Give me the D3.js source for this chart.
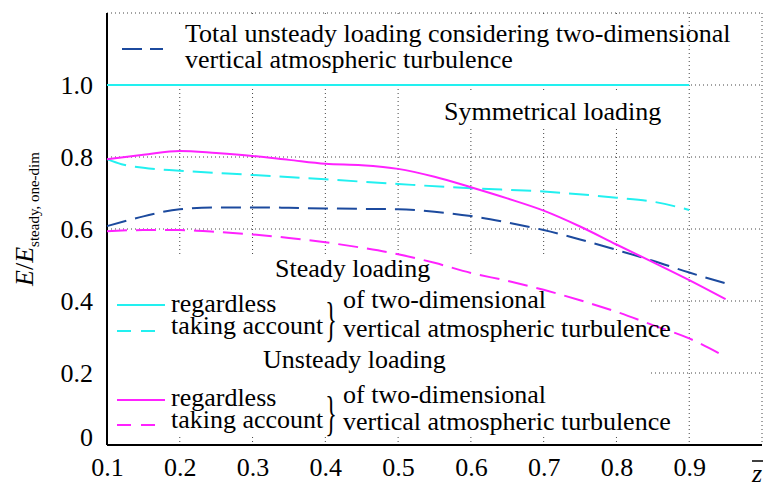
<!DOCTYPE html>
<html>
<head>
<meta charset="utf-8">
<script src="https://cdn.jsdelivr.net/npm/d3@7"></script>
<style>
  body { margin: 0; background: #fff; }
  svg, svg text { font-family: "Liberation Serif", "Times New Roman", Tinos, "DejaVu Serif", serif; }
</style>
</head>
<body>
<div id="chart"></div>
<script>
const width = 763
const height = 488
const plotLeft = 107, plotRight = 762, plotTop = 13, plotBottom = 445
const serif = '"Liberation Serif", "Times New Roman", Tinos, "DejaVu Serif", serif'

// Data
const zTicks = [0.1, 0.2, 0.3, 0.4, 0.5, 0.6, 0.7, 0.8, 0.9]
const eTicks = [0, 0.2, 0.4, 0.6, 0.8, 1.0]

const symmetricalZ = [0.1, 0.9]
const symmetricalE = [1.0, 1.0]

const steadyTwoDimZ = [0.1, 0.12, 0.15, 0.2, 0.3, 0.4, 0.5, 0.6, 0.7, 0.8, 0.85, 0.9]
const steadyTwoDimE = [0.794, 0.78, 0.77, 0.762, 0.75, 0.738, 0.725, 0.713, 0.704, 0.687, 0.676, 0.653]

const z = [0.1, 0.15, 0.2, 0.25, 0.3, 0.35, 0.4, 0.45, 0.5, 0.55, 0.6, 0.65, 0.7, 0.75, 0.8, 0.85, 0.9, 0.95]
const unsteadyRegardless = [0.794, 0.806, 0.817, 0.811, 0.803, 0.792, 0.781, 0.777, 0.767, 0.745, 0.716, 0.685, 0.651, 0.607, 0.557, 0.508, 0.458, 0.405]
const unsteadyTwoDim = [0.594, 0.597, 0.597, 0.592, 0.585, 0.575, 0.563, 0.548, 0.53, 0.506, 0.478, 0.456, 0.431, 0.402, 0.37, 0.333, 0.296, 0.245]
const totalUnsteady = [0.608, 0.635, 0.655, 0.66, 0.66, 0.659, 0.657, 0.656, 0.655, 0.648, 0.636, 0.618, 0.597, 0.571, 0.542, 0.512, 0.479, 0.449]

const cyan = '#22f0f0', magenta = '#ff22ff', navy = '#1c4a9e'

const svg = d3.select('#chart')
    .append('svg')
    .attr('width', width)
    .attr('height', height)
    .attr('font-family', serif)

const xScale = d3.scaleLinear().domain([0.1, 1.0]).range([plotLeft, plotRight])
const yScale = d3.scaleLinear().domain([0, 1.2]).range([plotBottom, plotTop])

// Dotted grid
const grid = svg.append('g').attr('stroke', '#444').attr('stroke-width', 1).attr('stroke-dasharray', '1,3')
grid.selectAll('.vg')
    .data(d3.range(0.2, 1.01, 0.1))
    .enter()
    .append('line')
    .attr('x1', d => xScale(d)).attr('x2', d => xScale(d))
    .attr('y1', plotTop).attr('y2', plotBottom)
grid.selectAll('.hg')
    .data([0.2, 0.4, 0.6, 0.8, 1.0, 1.2])
    .enter()
    .append('line')
    .attr('x1', plotLeft).attr('x2', plotRight)
    .attr('y1', d => yScale(d)).attr('y2', d => yScale(d))

// White boxes behind the legends hide the grid
svg.append('rect').attr('x', plotLeft + 1).attr('y', plotTop + 2).attr('width', 580).attr('height', 69).attr('fill', '#fff')
svg.append('rect').attr('x', 440).attr('y', 93).attr('width', 226).attr('height', 36).attr('fill', '#fff')
svg.append('rect').attr('x', plotLeft + 1).attr('y', 254).attr('width', 542).attr('height', 183).attr('fill', '#fff')

// Axes
const xAxis = d3.axisBottom(xScale)
    .tickValues(zTicks)
    .tickSize(0)
    .tickPadding(13)
    .tickFormat(d3.format('.1f'))
const gx = svg.append('g')
    .attr('transform', `translate(0, ${plotBottom})`)
    .call(xAxis)
    .attr('font-family', serif)
gx.select('.domain').remove()
gx.selectAll('text').attr('font-size', 26).attr('fill', '#000')

const yAxis = d3.axisLeft(yScale)
    .tickValues(eTicks)
    .tickSize(0)
    .tickPadding(14)
    .tickFormat(d => d === 0 ? '0' : d3.format('.1f')(d))
const gy = svg.append('g')
    .attr('transform', `translate(${plotLeft}, 0)`)
    .call(yAxis)
    .attr('font-family', serif)
gy.select('.domain').remove()
gy.selectAll('text').attr('font-size', 26).attr('fill', '#000')
gy.selectAll('.tick').filter(d => d === 0).select('text').attr('dy', '0.02em')

svg.append('line').attr('x1', plotLeft).attr('x2', plotRight).attr('y1', plotBottom).attr('y2', plotBottom)
    .attr('stroke', '#000').attr('stroke-width', 2)
svg.append('line').attr('x1', plotLeft).attr('x2', plotLeft).attr('y1', plotTop).attr('y2', plotBottom)
    .attr('stroke', '#000').attr('stroke-width', 2)

// Curves
const line = d3.line()
    .x(d => xScale(d[0]))
    .y(d => yScale(d[1]))
    .curve(d3.curveMonotoneX)

const series = [
    { zs: symmetricalZ, es: symmetricalE, color: cyan, dash: null },
    { zs: steadyTwoDimZ, es: steadyTwoDimE, color: cyan, dash: '20,9' },
    { zs: z, es: totalUnsteady, color: navy, dash: '20,9' },
    { zs: z, es: unsteadyTwoDim, color: magenta, dash: '20,9' },
    { zs: z, es: unsteadyRegardless, color: magenta, dash: null }
]
svg.selectAll('.curve')
    .data(series)
    .enter()
    .append('path')
    .attr('class', 'curve')
    .attr('fill', 'none')
    .attr('stroke', d => d.color)
    .attr('stroke-width', 2)
    .attr('stroke-dasharray', d => d.dash)
    .attr('d', d => line(d3.zip(d.zs, d.es)))

// Legend texts
const txt = (x, y, s, size) => svg.append('text')
    .attr('x', x).attr('y', y)
    .attr('font-size', size || 26)
    .text(s)
const sample = (x1, x2, y, color, dash) => svg.append('line')
    .attr('x1', x1).attr('x2', x2).attr('y1', y).attr('y2', y)
    .attr('stroke', color).attr('stroke-width', 2)
    .attr('stroke-dasharray', dash)

sample(122, 163, 49, navy, '20,8')
txt(185, 42, 'Total unsteady loading considering two-dimensional')
txt(185, 68, 'vertical atmospheric turbulence')
txt(444, 120, 'Symmetrical loading')

txt(275, 277, 'Steady loading')
sample(117, 165, 305, cyan, null)
sample(117, 162, 331, cyan, '14,10')
txt(171, 312, 'regardless')
txt(171, 334, 'taking account')
txt(343, 308, 'of two-dimensional')
txt(343, 337, 'vertical atmospheric turbulence')

txt(263, 368, 'Unsteady loading')
sample(117, 165, 400, magenta, null)
sample(117, 162, 425, magenta, '14,10')
txt(171, 406, 'regardless')
txt(171, 428, 'taking account')
txt(343, 403, 'of two-dimensional')
txt(343, 430, 'vertical atmospheric turbulence')

// braces
;[320, 414].forEach(cy => {
    svg.append('text')
        .attr('transform', `translate(331, ${cy}) scale(0.5, 1)`)
        .attr('font-size', 48)
        .attr('text-anchor', 'middle')
        .attr('dy', '0.33em')
        .text('}')
})

// Y-axis title
const yt = svg.append('text')
    .attr('transform', 'translate(33, 219) rotate(-90)')
    .attr('text-anchor', 'middle')
    .attr('font-size', 26)
yt.append('tspan').attr('font-style', 'italic').text('E')
yt.append('tspan').text('/')
yt.append('tspan').attr('font-style', 'italic').text('E')
yt.append('tspan').attr('font-size', 15).attr('dy', 6).text('steady, one-dim')

// x label: z with overbar
svg.append('text').attr('x', 757).attr('y', 482).attr('font-size', 26)
    .attr('font-style', 'italic').attr('text-anchor', 'middle').text('z')
svg.append('line').attr('x1', 752).attr('x2', 763).attr('y1', 461).attr('y2', 461)
    .attr('stroke', '#000').attr('stroke-width', 1.5)
</script>
</body>
</html>
